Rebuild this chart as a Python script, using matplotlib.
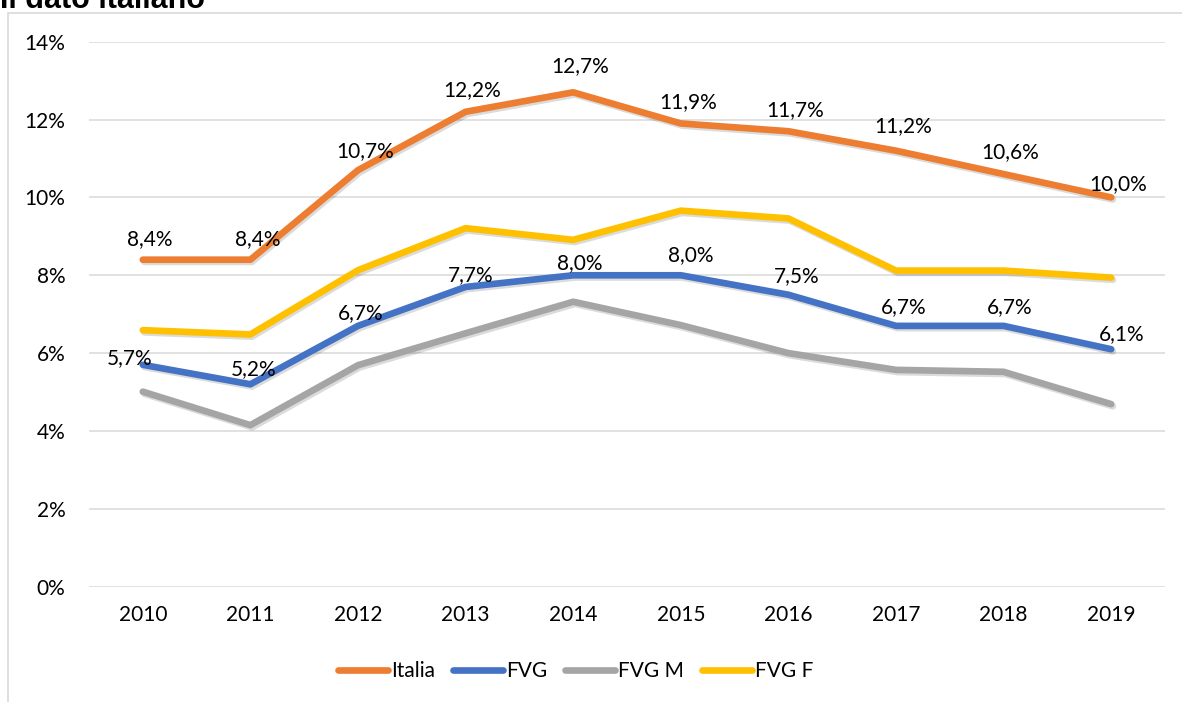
import matplotlib
matplotlib.use("Agg")
import matplotlib.pyplot as plt
import matplotlib.patheffects as pe
from matplotlib.patches import Rectangle
from matplotlib.lines import Line2D

# ---------------- data ----------------
years = ["2010", "2011", "2012", "2013", "2014", "2015", "2016", "2017", "2018", "2019"]
italia = [8.4, 8.4, 10.7, 12.2, 12.7, 11.9, 11.7, 11.2, 10.6, 10.0]
fvg = [5.7, 5.2, 6.7, 7.7, 8.0, 8.0, 7.5, 6.7, 6.7, 6.1]
fvg_m = [5.01, 4.15, 5.69, 6.51, 7.32, 6.72, 6.0, 5.57, 5.52, 4.69]
fvg_f = [6.59, 6.48, 8.13, 9.21, 8.91, 9.66, 9.46, 8.12, 8.12, 7.94]
series_names = ["Italia", "FVG", "FVG M", "FVG F"]
yticks = [0, 2, 4, 6, 8, 10, 12, 14]
title_text = "Il dato italiano"

# ---------------- style ----------------
colors = {"Italia": "#ED7D31", "FVG": "#4472C4", "FVG M": "#A5A5A5", "FVG F": "#FFC000"}
FONT = ["Lato", "DejaVu Sans"]
FS = 15
plt.rcParams["font.family"] = FONT

W, H = 1182, 702
fig = plt.figure(figsize=(W / 100, H / 100), dpi=100)

# chart-area frame (partly cropped)
fig.patches.append(Rectangle((7.5 / W, -0.05), 1.1, 1 - 12.7 / H + 0.05,
                             transform=fig.transFigure, fill=False,
                             edgecolor="#D9D9D9", linewidth=1.2, zorder=0))

# title, cropped at the top edge as in the reference
fig.text(0.0, 1 - 8 / H, title_text, fontsize=22, fontweight="bold",
         family=["Liberation Sans", "DejaVu Sans"], ha="left", va="baseline",
         color="#000000")

left, right = 89 / W, 1165 / W
bottom, top = 1 - 586.7 / H, 1 - 41.7 / H
ax = fig.add_axes([left, bottom, right - left, top - bottom])

x = list(range(len(years)))
ax.set_xlim(-0.5, len(years) - 0.5)
ax.set_ylim(0, 14)

for yv in yticks:
    ax.axhline(yv, color="#D9D9D9", linewidth=1.1, zorder=1)

shadow = [pe.SimpleLineShadow(offset=(1.2, -1.6), shadow_color="k", alpha=0.14),
          pe.Normal()]
data = {"Italia": italia, "FVG": fvg, "FVG M": fvg_m, "FVG F": fvg_f}
order = ["FVG M", "FVG F", "FVG", "Italia"]
for name in order:
    ax.plot(x, data[name], color=colors[name], linewidth=4.8,
            solid_capstyle="round", solid_joinstyle="round",
            path_effects=shadow, zorder=3, clip_on=False)

# data labels (offsets in pixels)
it_dy = [21, 21, 19, 22, 26, 21, 21, 25, 22, 13]
fvg_off = [(-13, 7), (3, 15), (3, 13), (5, 12), (7, 12), (10, 20), (8, 19), (8, 19), (6, 19), (10, 15)]

def fmt(v):
    return f"{v:.1f}".replace(".", ",") + "%"

for i, v in enumerate(italia):
    ax.annotate(fmt(v), (x[i], v), xytext=(7 * 0.72, it_dy[i] * 0.72),
                textcoords="offset points", ha="center", va="center",
                fontsize=FS, color="#000000", zorder=5)
for i, v in enumerate(fvg):
    dx, dy = fvg_off[i]
    ax.annotate(fmt(v), (x[i], v), xytext=(dx * 0.72, dy * 0.72),
                textcoords="offset points", ha="center", va="center",
                fontsize=FS, color="#000000", zorder=5)

ax.set_xticks(x)
ax.set_xticklabels(years)
ax.set_yticks(yticks)
ax.set_yticklabels([f"{t}%" for t in yticks])
ax.tick_params(axis="both", length=0, labelsize=FS, colors="#000000")
ax.tick_params(axis="y", pad=17)
ax.tick_params(axis="x", pad=13)
for s in ax.spines.values():
    s.set_visible(False)
ax.set_facecolor("none")

handles = [Line2D([0], [0], color=colors[n], linewidth=4.8, solid_capstyle="round")
           for n in series_names]
fig.legend(handles, series_names, loc="center", bbox_to_anchor=(576 / W, 1 - 671 / H),
           ncol=4, frameon=False, fontsize=FS, handlelength=2.4, handletextpad=0.15,
           columnspacing=0.85, borderaxespad=0)

fig.savefig("out.png", dpi=100)
